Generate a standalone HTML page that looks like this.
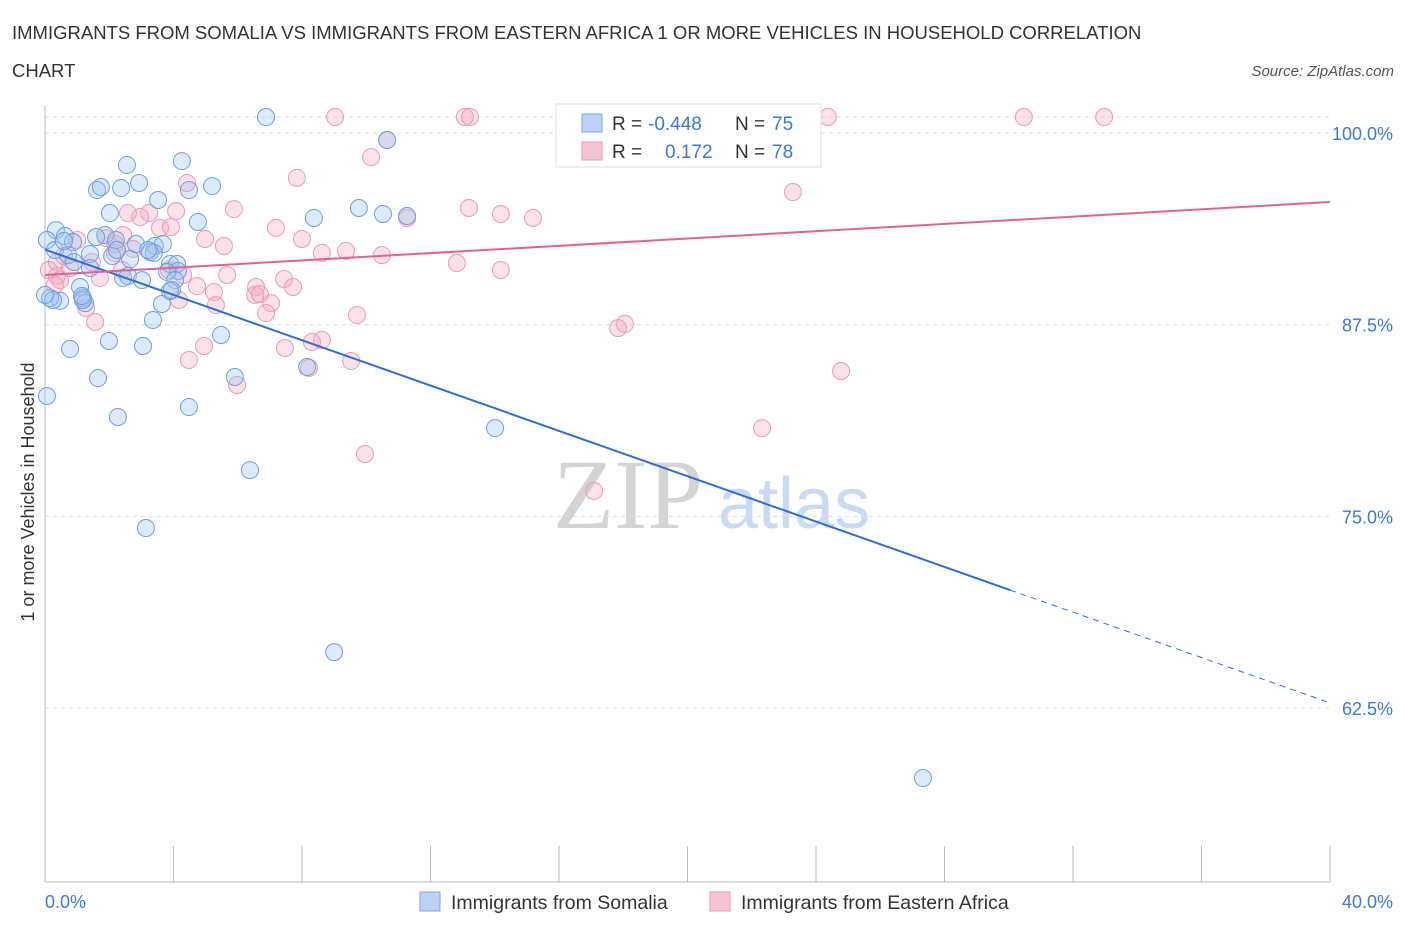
<!DOCTYPE html>
<html><head><meta charset="utf-8"><style>
body{margin:0;background:#fff;font-family:"Liberation Sans",sans-serif;}
svg text{font-family:"Liberation Sans",sans-serif;}
</style></head><body>
<svg id="chart" width="1406" height="930" xmlns="http://www.w3.org/2000/svg">
<text x="12" y="39" font-size="18.5" fill="#333">IMMIGRANTS FROM SOMALIA VS IMMIGRANTS FROM EASTERN AFRICA 1 OR MORE VEHICLES IN HOUSEHOLD CORRELATION</text>
<text x="12" y="77" font-size="18.5" fill="#333">CHART</text>
<text x="1394" y="76" font-size="15" fill="#555" text-anchor="end" font-style="italic">Source: ZipAtlas.com</text>
<text transform="translate(34,492) rotate(-90)" font-size="18" fill="#333" text-anchor="middle">1 or more Vehicles in Household</text>
<g>
<text x="553" y="528" font-size="100" fill="#d4d4d4" style="font-family:'Liberation Serif',serif">ZIP</text>
<text x="718" y="528" font-size="72" fill="#c9dbf3">atlas</text>
</g>
<g id="grid"></g>
<g id="axes"></g>
<g id="pts"></g>
<g id="trends"></g>
<g>
<rect x="556" y="104" width="265" height="63" fill="#fff" stroke="#ddd"/>
<rect x="582" y="114" width="20" height="18" fill="#b9d2f5" stroke="#7aa7e3"/>
<text x="612" y="130" font-size="19" fill="#333">R =</text>
<text x="648" y="130" font-size="19" fill="#3d79d6">-0.448</text>
<text x="735" y="130" font-size="19" fill="#333">N =</text>
<text x="772" y="130" font-size="19" fill="#3d79d6">75</text>
<rect x="582" y="142" width="20" height="18" fill="#f8c4d3" stroke="#ec9ab4"/>
<text x="612" y="158" font-size="19" fill="#333">R =</text>
<text x="665" y="158" font-size="19" fill="#3d79d6">0.172</text>
<text x="735" y="158" font-size="19" fill="#333">N =</text>
<text x="772" y="158" font-size="19" fill="#3d79d6">78</text>
</g>
<g>
<rect x="420" y="892" width="20" height="19" fill="#b9d2f5" stroke="#7aa7e3"/>
<text x="451" y="909" font-size="19.5" fill="#333">Immigrants from Somalia</text>
<rect x="710" y="892" width="20" height="19" fill="#f8c4d3" stroke="#ec9ab4"/>
<text x="741" y="909" font-size="19.5" fill="#333">Immigrants from Eastern Africa</text>
</g>
</svg>
<script>
const yTicks=[100,87.5,75,62.5];
const yTickLabels=["100.0%","87.5%","75.0%","62.5%"];
const xTickLabels=["0.0%","40.0%"];
const blueX=[6.88,10.65,2.55,4.26,1.62,1.74,2.37,2.93,5.20,4.48,3.52,2.02,4.76,8.37,9.77,10.52,11.27,0.34,0.06,0.62,0.87,1.87,2.21,0.31,0.72,1.40,2.09,2.65,2.83,3.42,3.67,3.27,0.90,1.40,2.43,2.58,3.02,3.89,4.11,4.14,3.80,4.05,1.09,1.18,1.25,0.47,0.16,3.64,3.95,3.36,5.48,1.99,3.05,0.78,1.65,5.91,8.16,0.06,4.48,2.27,14.01,6.38,3.14,9.00,27.33,0.59,2.24,3.39,1.18,1.15,0.25,3.21,1.59,3.89,0];
const blueY=[101.04,99.54,97.91,98.17,96.28,96.48,96.41,96.74,96.54,96.28,95.63,94.78,94.20,94.46,95.11,94.72,94.59,93.67,93.02,93.28,92.89,93.35,93.02,92.37,92.04,92.11,91.98,91.78,92.76,92.63,92.76,92.24,91.59,91.20,90.55,90.68,90.41,91.46,91.46,91.00,90.94,90.41,89.96,89.24,88.91,89.05,89.24,88.85,89.76,87.81,86.83,86.44,86.11,85.92,84.02,84.09,84.74,82.85,82.13,81.48,80.76,78.02,74.24,66.15,57.94,92.96,92.37,92.18,89.11,89.37,89.11,92.37,93.22,89.70,89.44];
const pinkX=[9.03,13.07,13.23,24.37,30.47,32.97,10.65,10.15,7.84,4.42,23.28,5.88,4.08,3.24,2.96,2.58,13.20,14.19,15.19,11.27,7.19,3.58,3.92,2.43,1.90,1.00,8.00,4.98,5.57,2.18,8.62,9.37,10.49,12.82,14.19,0.59,0.37,0.12,0.37,0.31,1.71,2.40,5.67,3.86,4.30,4.73,5.26,6.57,7.44,6.54,6.69,7.04,7.72,4.17,5.32,6.88,1.28,1.56,18.05,17.84,9.71,7.47,8.62,8.31,4.95,4.48,9.53,8.22,5.98,24.78,9.96,22.32,17.09,2.18,2.74,0.78,1.46,0.47];
const pinkY=[101.04,101.04,101.04,101.04,101.04,101.04,99.54,98.43,97.07,96.74,96.15,95.04,94.91,94.78,94.52,94.78,95.11,94.72,94.46,94.46,93.81,93.81,93.87,93.35,93.15,93.02,93.09,93.09,92.63,92.76,92.18,92.31,92.04,91.52,91.07,91.98,91.59,91.07,90.68,90.09,90.55,91.07,90.74,91.07,90.74,90.02,89.63,89.96,90.48,89.44,89.50,88.91,89.96,89.11,88.78,88.26,88.59,87.68,87.55,87.28,88.13,85.98,86.50,86.37,86.11,85.20,85.13,84.68,83.57,84.48,79.07,80.76,76.66,92.18,92.44,91.20,91.59,90.41];
const blueTrend=[92.4,62.84];
const blueSolidEnd=30.04;
const pinkTrend=[90.74,95.5];
const NS="http://www.w3.org/2000/svg";
const X0=45,X1=1330,YB=882;
function sx(v){return X0+(v/40)*(X1-X0);}
function sy(v){return 133+(100-v)*15.336;}
function mk(t,a,p){const e=document.createElementNS(NS,t);for(const k in a)e.setAttribute(k,a[k]);p.appendChild(e);return e;}
const grid=document.getElementById('grid'),axes=document.getElementById('axes');
mk('line',{x1:X0,x2:X1,y1:117,y2:117,stroke:'#ddd','stroke-dasharray':'4,4'},grid);
yTicks.forEach((t,i)=>{
 const l=mk('line',{x1:X0,x2:X1,y1:sy(t),y2:sy(t),stroke:'#ddd','stroke-dasharray':'4,4'},grid);
 
 
 const tx=mk('text',{x:1393,y:sy(t)+7,'font-size':18,fill:'#3d79d6','text-anchor':'end'},axes);
 tx.textContent=yTickLabels[i];
 
 
});
mk('line',{x1:X0,x2:X0,y1:105,y2:YB,stroke:'#bbb'},axes);
mk('line',{x1:X0,x2:X1,y1:YB,y2:YB,stroke:'#bbb'},axes);
for(let i=0;i<=10;i++){const t=mk('line',{x1:sx(i*4),x2:sx(i*4),y1:846,y2:YB,stroke:'#bbb'},axes);
 
 }
const xl0=mk('text',{x:45,y:908,'font-size':18,fill:'#3d79d6'},axes);xl0.textContent=xTickLabels[0];


const xl1=mk('text',{x:1393,y:908,'font-size':18,fill:'#3d79d6','text-anchor':'end'},axes);xl1.textContent=xTickLabels[1];


const pts=document.getElementById('pts');
pinkX.forEach((x,i)=>{const c=mk('circle',{cx:sx(x),cy:sy(pinkY[i]),r:8.5,fill:'rgba(244,168,192,0.35)',stroke:'#eb9bb5','stroke-width':1},pts);
 
 });
blueX.forEach((x,i)=>{const c=mk('circle',{cx:sx(x),cy:sy(blueY[i]),r:8.5,fill:'rgba(158,194,240,0.35)',stroke:'#6d9fe0','stroke-width':1},pts);
 
 });
const tr=document.getElementById('trends');
function ly(a,x){return a[0]+(a[1]-a[0])*x/40;}
const b1=mk('line',{x1:sx(0),y1:sy(ly(blueTrend,0)),x2:sx(blueSolidEnd),y2:sy(ly(blueTrend,blueSolidEnd)),stroke:'#2f6fd6','stroke-width':2},tr);


const b2=mk('line',{x1:sx(blueSolidEnd),y1:sy(ly(blueTrend,blueSolidEnd)),x2:sx(40),y2:sy(ly(blueTrend,40)),stroke:'#2f6fd6','stroke-width':1,'stroke-dasharray':'6,5'},tr);


const p1=mk('line',{x1:sx(0),y1:sy(ly(pinkTrend,0)),x2:sx(40),y2:sy(ly(pinkTrend,40)),stroke:'#e2648e','stroke-width':2},tr);


</script>
</body></html>
